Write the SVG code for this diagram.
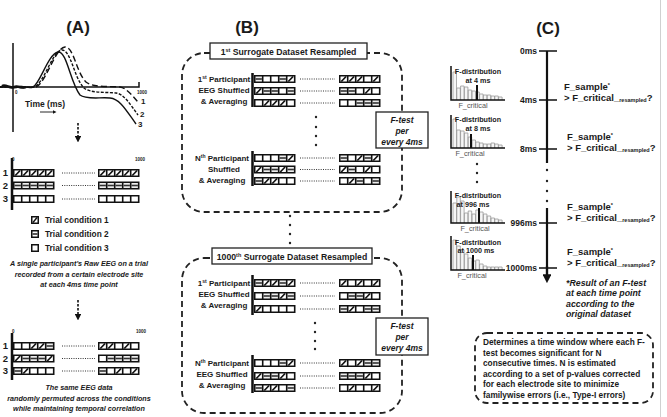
<svg xmlns="http://www.w3.org/2000/svg" xmlns:xlink="http://www.w3.org/1999/xlink" width="667" height="417" viewBox="0 0 667 417">
<style>
text{font-family:"Liberation Sans",Arial,sans-serif;fill:#1a1a1a;font-weight:bold}
.ttl{font-size:17px}
.it{font-style:italic}
.cap{font-size:7.2px;font-style:italic;text-anchor:middle}
.leg{font-size:8.3px}
.tiny{font-size:4.5px}
.rl{font-size:9.5px;text-anchor:middle}
.pl{font-size:8px;text-anchor:middle}
.bt{font-size:8.7px;text-anchor:middle}
.ft{font-size:8.5px;font-style:italic;text-anchor:middle}
.ms{font-size:8.5px;text-anchor:end}
.fs{font-size:9.5px}
.fd{font-size:7.2px;text-anchor:middle}
.fc{font-size:7.3px;font-weight:normal;fill:#555;text-anchor:middle}
.nt{font-size:8.8px;font-style:italic}
.bx{font-size:8.3px}
.dash{fill:none;stroke:#222;stroke-width:1.8;stroke-dasharray:6 4}
.box{fill:#fff;stroke:#222;stroke-width:1.3}
.dot{stroke:#333;stroke-width:1;stroke-dasharray:1 1.3}
.bar{stroke:#111;stroke-width:2.5}
.hist{fill:#f6f6f6;stroke:#9a9a9a;stroke-width:0.8}
.ax{stroke:#111;stroke-width:1.5;fill:none}
.crit{stroke:#111;stroke-width:2}
</style>
<defs>
<marker id="ah" viewBox="0 0 10 10" refX="3" refY="5" markerWidth="4" markerHeight="4" orient="auto"><path d="M0,0 L10,5 L0,10 z" fill="#111"/></marker>
<rect id="blk" width="41.5" height="8" fill="#111"/>
<g id="W"><rect width="6.4" height="5" fill="#fff"/></g>
<g id="H"><rect width="6.4" height="5" fill="#fff"/><path d="M0.8,5 L5.6,0" stroke="#111" stroke-width="1.7"/></g>
<g id="E"><rect width="6.4" height="5" fill="#eee"/><path d="M0,2.5 H6.4" stroke="#333" stroke-width="1.6"/></g>
</defs>
<rect width="667" height="417" fill="#fff"/>
<line x1="660.5" y1="0" x2="660.5" y2="417" stroke="#d0d0d0" stroke-width="1"/>

<!-- Panel A -->
<g id="panelA">
<text class="ttl" x="78" y="33" text-anchor="middle">(A)</text>
<g id="eeg">
<path class="ax" d="M13,43 V132 M0,87 H139 V82"/>
<path d="M0,87 C6,84 12,90 18,87 C24,85 28,89 33,87 C40,84 48,54 58,52 C67,51 70,82 80,95 C86,100 100,97 110,98 C120,99 126,110 136,124" fill="none" stroke="#111" stroke-width="1.4"/>
<path d="M0,87 C10,87 25,88 34,87 C44,84 52,51 62,50 C71,50 74,78 84,88 C90,93 104,92 116,93 C124,94 130,104 138,115" fill="none" stroke="#111" stroke-width="1.4" stroke-dasharray="3 1.5"/>
<path d="M0,87 C10,87 25,88 36,87 C46,83 55,48 65,47 C74,47 76,72 86,82 C93,88 110,86 120,87 C126,88 131,94 138,102" fill="none" stroke="#111" stroke-width="1.4" stroke-dasharray="6 3"/>
<path d="M2,86 C6,84 10,89 14,87 C18,85 22,89 26,87" fill="none" stroke="#111" stroke-width="2.5"/>
<text class="tiny" x="15" y="94">0</text>
<text class="tiny" x="137" y="94">1000</text>
<text x="141" y="104" font-size="8">1</text>
<text x="140" y="117" font-size="8">2</text>
<text x="138" y="127" font-size="8">3</text>
<text x="25" y="107" font-size="8.5">Time (ms)</text>
<line x1="40" y1="112" x2="54" y2="112" stroke="#111" stroke-width="0.9" marker-end="url(#ah)"/>
</g>
<line x1="78" y1="123" x2="78" y2="138" stroke="#111" stroke-width="1.6" stroke-dasharray="2.5 1.5" marker-end="url(#ah)"/>

<g id="gridA1">
<text class="tiny" x="12" y="161">0</text>
<text class="tiny" x="145" y="161" text-anchor="end">1000</text>
<line class="bar" x1="12" y1="158" x2="12" y2="210"/>
<text class="rl" x="5.5" y="176.3">1</text>
<text class="rl" x="5.5" y="188.8">2</text>
<text class="rl" x="5.5" y="202.3">3</text>
<g transform="translate(13,169)"><use href="#blk"/><use href="#H" x="1.5" y="1.5"/><use href="#H" x="9.5" y="1.5"/><use href="#H" x="17.5" y="1.5"/><use href="#H" x="25.5" y="1.5"/><use href="#H" x="33.5" y="1.5"/></g>
<g transform="translate(98,169)"><use href="#blk"/><use href="#H" x="1.5" y="1.5"/><use href="#H" x="9.5" y="1.5"/><use href="#H" x="17.5" y="1.5"/><use href="#H" x="25.5" y="1.5"/><use href="#H" x="33.5" y="1.5"/></g>
<g transform="translate(13,181.5)"><use href="#blk"/><use href="#E" x="1.5" y="1.5"/><use href="#E" x="9.5" y="1.5"/><use href="#E" x="17.5" y="1.5"/><use href="#E" x="25.5" y="1.5"/><use href="#E" x="33.5" y="1.5"/></g>
<g transform="translate(98,181.5)"><use href="#blk"/><use href="#E" x="1.5" y="1.5"/><use href="#E" x="9.5" y="1.5"/><use href="#E" x="17.5" y="1.5"/><use href="#E" x="25.5" y="1.5"/><use href="#E" x="33.5" y="1.5"/></g>
<g transform="translate(13,195)"><use href="#blk"/><use href="#W" x="1.5" y="1.5"/><use href="#W" x="9.5" y="1.5"/><use href="#W" x="17.5" y="1.5"/><use href="#W" x="25.5" y="1.5"/><use href="#W" x="33.5" y="1.5"/></g>
<g transform="translate(98,195)"><use href="#blk"/><use href="#W" x="1.5" y="1.5"/><use href="#W" x="9.5" y="1.5"/><use href="#W" x="17.5" y="1.5"/><use href="#W" x="25.5" y="1.5"/><use href="#W" x="33.5" y="1.5"/></g>
<path class="dot" d="M62,173 H95 M62,185.5 H95 M62,199 H95"/>
</g>

<g id="legendA">
<rect x="31" y="216" width="8" height="8" fill="#111"/><rect x="32.5" y="217.5" width="5" height="5" fill="#fff"/><path d="M33,222.5 L37,217.5" stroke="#111" stroke-width="1.4"/>
<rect x="31" y="230" width="8" height="8" fill="#111"/><rect x="32.5" y="231.5" width="5" height="5" fill="#fff"/><path d="M32.5,234 H37.5" stroke="#333" stroke-width="1.6"/>
<rect x="31" y="244" width="8" height="8" fill="#111"/><rect x="32.5" y="245.5" width="5" height="5" fill="#fff"/>
<text class="leg" x="45" y="223">Trial condition 1</text>
<text class="leg" x="45" y="237">Trial condition 2</text>
<text class="leg" x="45" y="251">Trial condition 3</text>
</g>
<text class="cap" x="79" y="265.5">A single participant's Raw EEG on a trial</text>
<text class="cap" x="79" y="276.5">recorded from a certain electrode site</text>
<text class="cap" x="79" y="286.5">at each 4ms time point</text>
<line x1="78" y1="300" x2="78" y2="316" stroke="#111" stroke-width="1.6" stroke-dasharray="2.5 1.5" marker-end="url(#ah)"/>

<g id="gridA2">
<text class="tiny" x="12" y="333">0</text>
<text class="tiny" x="146" y="333" text-anchor="end">1000</text>
<line class="bar" x1="12" y1="333" x2="12" y2="380"/>
<text class="rl" x="5.5" y="349.3">1</text>
<text class="rl" x="5.5" y="361.8">2</text>
<text class="rl" x="5.5" y="374.3">3</text>
<g transform="translate(13,342)"><use href="#blk"/><use href="#W" x="1.5" y="1.5"/><use href="#W" x="9.5" y="1.5"/><use href="#H" x="17.5" y="1.5"/><use href="#H" x="25.5" y="1.5"/><use href="#E" x="33.5" y="1.5"/></g>
<g transform="translate(98,342)"><use href="#blk"/><use href="#H" x="1.5" y="1.5"/><use href="#H" x="9.5" y="1.5"/><use href="#W" x="17.5" y="1.5"/><use href="#H" x="25.5" y="1.5"/><use href="#W" x="33.5" y="1.5"/></g>
<g transform="translate(13,354.5)"><use href="#blk"/><use href="#H" x="1.5" y="1.5"/><use href="#E" x="9.5" y="1.5"/><use href="#E" x="17.5" y="1.5"/><use href="#E" x="25.5" y="1.5"/><use href="#H" x="33.5" y="1.5"/></g>
<g transform="translate(98,354.5)"><use href="#blk"/><use href="#W" x="1.5" y="1.5"/><use href="#E" x="9.5" y="1.5"/><use href="#E" x="17.5" y="1.5"/><use href="#E" x="25.5" y="1.5"/><use href="#E" x="33.5" y="1.5"/></g>
<g transform="translate(13,367)"><use href="#blk"/><use href="#E" x="1.5" y="1.5"/><use href="#H" x="9.5" y="1.5"/><use href="#W" x="17.5" y="1.5"/><use href="#W" x="25.5" y="1.5"/><use href="#W" x="33.5" y="1.5"/></g>
<g transform="translate(98,367)"><use href="#blk"/><use href="#E" x="1.5" y="1.5"/><use href="#W" x="9.5" y="1.5"/><use href="#H" x="17.5" y="1.5"/><use href="#W" x="25.5" y="1.5"/><use href="#H" x="33.5" y="1.5"/></g>
<path class="dot" d="M62,346 H95 M62,358.5 H95 M62,371 H95"/>
</g>
<text class="cap" x="79" y="389.5">The same EEG data</text>
<text class="cap" x="79" y="400.5">randomly permuted across the conditions</text>
<text class="cap" x="79" y="410.5">while maintaining temporal correlation</text>
</g>

<!-- Panel B -->
<g id="panelB">
<text class="ttl" x="247" y="33" text-anchor="middle">(B)</text>
<g id="surrogate1">
<rect class="dash" x="182" y="53" width="220" height="159" rx="22"/>
<rect class="box" x="210" y="43" width="157" height="16"/>
<text class="bt" x="288.5" y="55">1<tspan font-size="5.5" dy="-3">st</tspan><tspan dy="3"> Surrogate Dataset Resampled</tspan></text>
<text class="pl" x="224" y="82">1<tspan font-size="5" dy="-3">st</tspan><tspan dy="3"> Participant</tspan></text>
<text class="pl" x="224" y="93">EEG Shuffled</text>
<text class="pl" x="224" y="104">&amp; Averaging</text>
<text class="pl" x="222" y="161">N<tspan font-size="5" dy="-3">th</tspan><tspan dy="3"> Participant</tspan></text>
<text class="pl" x="224" y="172">Shuffled</text>
<text class="pl" x="222" y="183">&amp; Averaging</text>
<path class="bar" d="M252.5,73 V107 M252.5,151 V186"/>
<g transform="translate(254,75)"><use href="#blk"/><use href="#E" x="1.5" y="1.5"/><use href="#W" x="9.5" y="1.5"/><use href="#W" x="17.5" y="1.5"/><use href="#E" x="25.5" y="1.5"/><use href="#H" x="33.5" y="1.5"/></g>
<g transform="translate(339,75)"><use href="#blk"/><use href="#H" x="1.5" y="1.5"/><use href="#H" x="9.5" y="1.5"/><use href="#H" x="17.5" y="1.5"/><use href="#W" x="25.5" y="1.5"/><use href="#H" x="33.5" y="1.5"/></g>
<g transform="translate(254,87)"><use href="#blk"/><use href="#H" x="1.5" y="1.5"/><use href="#E" x="9.5" y="1.5"/><use href="#E" x="17.5" y="1.5"/><use href="#W" x="25.5" y="1.5"/><use href="#E" x="33.5" y="1.5"/></g>
<g transform="translate(339,87)"><use href="#blk"/><use href="#E" x="1.5" y="1.5"/><use href="#E" x="9.5" y="1.5"/><use href="#W" x="17.5" y="1.5"/><use href="#H" x="25.5" y="1.5"/><use href="#W" x="33.5" y="1.5"/></g>
<g transform="translate(254,99)"><use href="#blk"/><use href="#W" x="1.5" y="1.5"/><use href="#H" x="9.5" y="1.5"/><use href="#H" x="17.5" y="1.5"/><use href="#H" x="25.5" y="1.5"/><use href="#W" x="33.5" y="1.5"/></g>
<g transform="translate(339,99)"><use href="#blk"/><use href="#W" x="1.5" y="1.5"/><use href="#W" x="9.5" y="1.5"/><use href="#E" x="17.5" y="1.5"/><use href="#E" x="25.5" y="1.5"/><use href="#E" x="33.5" y="1.5"/></g>
<g transform="translate(254,154)"><use href="#blk"/><use href="#W" x="1.5" y="1.5"/><use href="#W" x="9.5" y="1.5"/><use href="#W" x="17.5" y="1.5"/><use href="#E" x="25.5" y="1.5"/><use href="#H" x="33.5" y="1.5"/></g>
<g transform="translate(339,154)"><use href="#blk"/><use href="#E" x="1.5" y="1.5"/><use href="#W" x="9.5" y="1.5"/><use href="#H" x="17.5" y="1.5"/><use href="#E" x="25.5" y="1.5"/><use href="#H" x="33.5" y="1.5"/></g>
<g transform="translate(254,165.5)"><use href="#blk"/><use href="#H" x="1.5" y="1.5"/><use href="#E" x="9.5" y="1.5"/><use href="#E" x="17.5" y="1.5"/><use href="#H" x="25.5" y="1.5"/><use href="#E" x="33.5" y="1.5"/></g>
<g transform="translate(339,165.5)"><use href="#blk"/><use href="#H" x="1.5" y="1.5"/><use href="#E" x="9.5" y="1.5"/><use href="#W" x="17.5" y="1.5"/><use href="#H" x="25.5" y="1.5"/><use href="#W" x="33.5" y="1.5"/></g>
<g transform="translate(254,177)"><use href="#blk"/><use href="#E" x="1.5" y="1.5"/><use href="#H" x="9.5" y="1.5"/><use href="#H" x="17.5" y="1.5"/><use href="#W" x="25.5" y="1.5"/><use href="#W" x="33.5" y="1.5"/></g>
<g transform="translate(339,177)"><use href="#blk"/><use href="#W" x="1.5" y="1.5"/><use href="#H" x="9.5" y="1.5"/><use href="#E" x="17.5" y="1.5"/><use href="#W" x="25.5" y="1.5"/><use href="#E" x="33.5" y="1.5"/></g>
<path class="dot" d="M300,79 H335 M300,91 H335 M300,103 H335 M300,158 H335 M300,169.5 H335 M300,181 H335"/>
<g fill="#222"><circle cx="316" cy="117" r="1.2"/><circle cx="316" cy="127" r="1.2"/><circle cx="316" cy="136" r="1.2"/><circle cx="316" cy="145" r="1.2"/></g>
<rect class="box" x="376" y="112" width="52" height="36"/>
<text class="ft" x="402" y="122.5">F-test</text>
<text class="ft" x="402" y="134">per</text>
<text class="ft" x="402" y="145">every 4ms</text>
</g>
<g fill="#222"><circle cx="290" cy="216" r="1.2"/><circle cx="290" cy="225" r="1.2"/><circle cx="290" cy="234" r="1.2"/><circle cx="290" cy="243" r="1.2"/></g>
<g id="surrogate1000">
<rect class="dash" x="182" y="258" width="220" height="155" rx="22"/>
<rect class="box" x="212" y="248" width="160" height="16"/>
<text class="bt" x="292" y="260">1000<tspan font-size="5.5" dy="-3">th</tspan><tspan dy="3"> Surrogate Dataset Resampled</tspan></text>
<text class="pl" x="224" y="286">1<tspan font-size="5" dy="-3">st</tspan><tspan dy="3"> Participant</tspan></text>
<text class="pl" x="224" y="297">EEG Shuffled</text>
<text class="pl" x="224" y="307.5">&amp; Averaging</text>
<text class="pl" x="222" y="366">N<tspan font-size="5" dy="-3">th</tspan><tspan dy="3"> Participant</tspan></text>
<text class="pl" x="222" y="377">EEG Shuffled</text>
<text class="pl" x="222" y="387.5">&amp; Averaging</text>
<path class="bar" d="M252.5,275 V315 M252.5,355 V393"/>
<g transform="translate(254,279)"><use href="#blk"/><use href="#E" x="1.5" y="1.5"/><use href="#H" x="9.5" y="1.5"/><use href="#H" x="17.5" y="1.5"/><use href="#E" x="25.5" y="1.5"/><use href="#H" x="33.5" y="1.5"/></g>
<g transform="translate(339,279)"><use href="#blk"/><use href="#H" x="1.5" y="1.5"/><use href="#W" x="9.5" y="1.5"/><use href="#H" x="17.5" y="1.5"/><use href="#W" x="25.5" y="1.5"/><use href="#H" x="33.5" y="1.5"/></g>
<g transform="translate(254,292)"><use href="#blk"/><use href="#W" x="1.5" y="1.5"/><use href="#E" x="9.5" y="1.5"/><use href="#E" x="17.5" y="1.5"/><use href="#H" x="25.5" y="1.5"/><use href="#E" x="33.5" y="1.5"/></g>
<g transform="translate(339,292)"><use href="#blk"/><use href="#W" x="1.5" y="1.5"/><use href="#E" x="9.5" y="1.5"/><use href="#E" x="17.5" y="1.5"/><use href="#H" x="25.5" y="1.5"/><use href="#W" x="33.5" y="1.5"/></g>
<g transform="translate(254,305)"><use href="#blk"/><use href="#H" x="1.5" y="1.5"/><use href="#W" x="9.5" y="1.5"/><use href="#W" x="17.5" y="1.5"/><use href="#W" x="25.5" y="1.5"/><use href="#W" x="33.5" y="1.5"/></g>
<g transform="translate(339,305)"><use href="#blk"/><use href="#E" x="1.5" y="1.5"/><use href="#H" x="9.5" y="1.5"/><use href="#W" x="17.5" y="1.5"/><use href="#E" x="25.5" y="1.5"/><use href="#E" x="33.5" y="1.5"/></g>
<g transform="translate(254,359)"><use href="#blk"/><use href="#W" x="1.5" y="1.5"/><use href="#W" x="9.5" y="1.5"/><use href="#W" x="17.5" y="1.5"/><use href="#E" x="25.5" y="1.5"/><use href="#H" x="33.5" y="1.5"/></g>
<g transform="translate(339,359)"><use href="#blk"/><use href="#H" x="1.5" y="1.5"/><use href="#W" x="9.5" y="1.5"/><use href="#H" x="17.5" y="1.5"/><use href="#E" x="25.5" y="1.5"/><use href="#E" x="33.5" y="1.5"/></g>
<g transform="translate(254,372)"><use href="#blk"/><use href="#H" x="1.5" y="1.5"/><use href="#E" x="9.5" y="1.5"/><use href="#E" x="17.5" y="1.5"/><use href="#H" x="25.5" y="1.5"/><use href="#W" x="33.5" y="1.5"/></g>
<g transform="translate(339,372)"><use href="#blk"/><use href="#E" x="1.5" y="1.5"/><use href="#E" x="9.5" y="1.5"/><use href="#E" x="17.5" y="1.5"/><use href="#H" x="25.5" y="1.5"/><use href="#W" x="33.5" y="1.5"/></g>
<g transform="translate(254,384)"><use href="#blk"/><use href="#E" x="1.5" y="1.5"/><use href="#H" x="9.5" y="1.5"/><use href="#H" x="17.5" y="1.5"/><use href="#W" x="25.5" y="1.5"/><use href="#E" x="33.5" y="1.5"/></g>
<g transform="translate(339,384)"><use href="#blk"/><use href="#W" x="1.5" y="1.5"/><use href="#H" x="9.5" y="1.5"/><use href="#W" x="17.5" y="1.5"/><use href="#W" x="25.5" y="1.5"/><use href="#H" x="33.5" y="1.5"/></g>
<path class="dot" d="M300,283 H335 M300,296 H335 M300,309 H335 M300,363 H335 M300,376 H335 M300,388 H335"/>
<g fill="#222"><circle cx="315" cy="323" r="1.2"/><circle cx="315" cy="332" r="1.2"/><circle cx="315" cy="341" r="1.2"/><circle cx="315" cy="349" r="1.2"/></g>
<rect class="box" x="376" y="318" width="52" height="37"/>
<text class="ft" x="402" y="329">F-test</text>
<text class="ft" x="402" y="340">per</text>
<text class="ft" x="402" y="350.5">every 4ms</text>
</g>
</g>

<!-- Panel C -->
<g id="panelC">
<text class="ttl" x="548" y="34" text-anchor="middle">(C)</text>
<g id="timeline">
<path d="M547,51 V163 M547,208 V276" stroke="#111" stroke-width="2.2" fill="none"/>
<line x1="547" y1="266" x2="547" y2="277" stroke="#111" stroke-width="2.2" marker-end="url(#ah)"/>
<path d="M539,51 H557 M539,100 H557 M539,149 H557 M539,223 H557 M539,268 H557" stroke="#111" stroke-width="1.6"/>
<g fill="#222"><circle cx="547" cy="170" r="1.2"/><circle cx="547" cy="181" r="1.2"/><circle cx="547" cy="191" r="1.2"/><circle cx="547" cy="201" r="1.2"/></g>
<text class="ms" x="537" y="54">0ms</text>
<text class="ms" x="537" y="103">4ms</text>
<text class="ms" x="537" y="152">8ms</text>
<text class="ms" x="537" y="226">996ms</text>
<text class="ms" x="537" y="271">1000ms</text>
</g>
<g id="fsamples">
<text class="fs" x="564" y="90">F_sample<tspan font-size="5.5" dy="-3.5">*</tspan></text>
<text class="fs" x="564" y="101">&gt; F_critical_<tspan font-size="5.5" dy="0.5">resampled</tspan><tspan dy="-0.5">?</tspan></text>
<text class="fs" x="567" y="140">F_sample<tspan font-size="5.5" dy="-3.5">*</tspan></text>
<text class="fs" x="567" y="151">&gt; F_critical_<tspan font-size="5.5" dy="0.5">resampled</tspan><tspan dy="-0.5">?</tspan></text>
<text class="fs" x="567" y="210">F_sample<tspan font-size="5.5" dy="-3.5">*</tspan></text>
<text class="fs" x="567" y="221">&gt; F_critical_<tspan font-size="5.5" dy="0.5">resampled</tspan><tspan dy="-0.5">?</tspan></text>
<text class="fs" x="567" y="255">F_sample<tspan font-size="5.5" dy="-3.5">*</tspan></text>
<text class="fs" x="567" y="266">&gt; F_critical_<tspan font-size="5.5" dy="0.5">resampled</tspan><tspan dy="-0.5">?</tspan></text>
</g>
<g id="note">
<text class="nt" x="566" y="285.5">*Result of an F-test</text>
<text class="nt" x="566" y="296">at each time point</text>
<text class="nt" x="566" y="306.5">according to the</text>
<text class="nt" x="566" y="317">original dataset</text>
</g>
<g id="fdist4">
<path class="hist" d="M453,100v-28h3.5v28 M456.8,100v-12h3.5v12 M460.6,100v-14h3.5v14 M464.4,100v-13h3.5v13 M468.2,100v-10h3.5v10 M472,100v-9h3.5v9 M475.8,100v-8h3.5v8 M479.6,100v-6h3.5v6 M483.4,100v-5h3.5v5 M487.2,100v-5h3.5v5 M491,100v-4h3.5v4 M494.8,100v-4h3.5v4 M498.6,100v-3h3.5v3"/>
<path class="ax" d="M451,66 V100 H505"/>
<line class="crit" x1="477" y1="85" x2="477" y2="100"/>
<text class="fd" x="478" y="74">F-distribution</text>
<text class="fd" x="478" y="83">at 4 ms</text>
<text class="fc" x="473" y="108">F_critical</text>
</g>
<g id="fdist8">
<path class="hist" d="M453,148v-29h3.5v29 M456.8,148v-18h3.5v18 M460.6,148v-17h3.5v17 M464.4,148v-15h3.5v15 M468.2,148v-11h3.5v11 M472,148v-8h3.5v8 M475.8,148v-6h3.5v6 M479.6,148v-5h3.5v5 M483.4,148v-4h3.5v4 M487.2,148v-4h3.5v4 M491,148v-5h3.5v5 M494.8,148v-4h3.5v4 M498.6,148v-3h3.5v3"/>
<path class="ax" d="M451,115 V148 H505"/>
<line class="crit" x1="471" y1="134" x2="471" y2="148"/>
<text class="fd" x="478" y="122">F-distribution</text>
<text class="fd" x="478" y="131">at 8 ms</text>
<text class="fc" x="470" y="156">F_critical</text>
</g>
<g fill="#222"><circle cx="477" cy="164" r="1.2"/><circle cx="477" cy="173" r="1.2"/><circle cx="477" cy="182" r="1.2"/></g>
<g id="fdist996">
<path class="hist" d="M453,223v-20h3.5v20 M456.8,223v-26h3.5v26 M460.6,223v-22h3.5v22 M464.4,223v-10h3.5v10 M468.2,223v-12h3.5v12 M472,223v-9h3.5v9 M475.8,223v-13h3.5v13 M479.6,223v-11h3.5v11 M483.4,223v-9h3.5v9 M487.2,223v-7h3.5v7 M491,223v-5h3.5v5 M494.8,223v-4h3.5v4 M498.6,223v-3h3.5v3"/>
<path class="ax" d="M451,191 V223 H505"/>
<line class="crit" x1="479" y1="208" x2="479" y2="223"/>
<text class="fd" x="478" y="198">F-distribution</text>
<text class="fd" x="473" y="207">at 996 ms</text>
<text class="fc" x="475" y="231">F_critical</text>
</g>
<g id="fdist1000">
<path class="hist" d="M453,270v-30h3.5v30 M456.8,270v-24h3.5v24 M460.6,270v-20h3.5v20 M464.4,270v-16h3.5v16 M468.2,270v-12h3.5v12 M472,270v-9h3.5v9 M475.8,270v-10h3.5v10 M479.6,270v-6h3.5v6 M483.4,270v-4h3.5v4 M487.2,270v-3h3.5v3 M491,270v-3h3.5v3 M494.8,270v-3h3.5v3 M498.6,270v-3h3.5v3"/>
<path class="ax" d="M451,236 V270 H505"/>
<line class="crit" x1="473" y1="255" x2="473" y2="270"/>
<text class="fd" x="478" y="245">F-distribution</text>
<text class="fd" x="476" y="253">at 1000 ms</text>
<text class="fc" x="472" y="278">F_critical</text>
</g>
<g id="criteria">
<rect class="dash" x="475" y="333" width="178" height="70" rx="12"/>
<text class="bx" x="483" y="345">Determines a time window where each F-</text>
<text class="bx" x="483" y="355.5">test becomes significant for N</text>
<text class="bx" x="483" y="366">consecutive times. N is estimated</text>
<text class="bx" x="483" y="376.5">according to a set of p-values corrected</text>
<text class="bx" x="483" y="387">for each electrode site to minimize</text>
<text class="bx" x="483" y="397.5">familywise errors (i.e., Type-I errors)</text>
</g>
</g>
</svg>
